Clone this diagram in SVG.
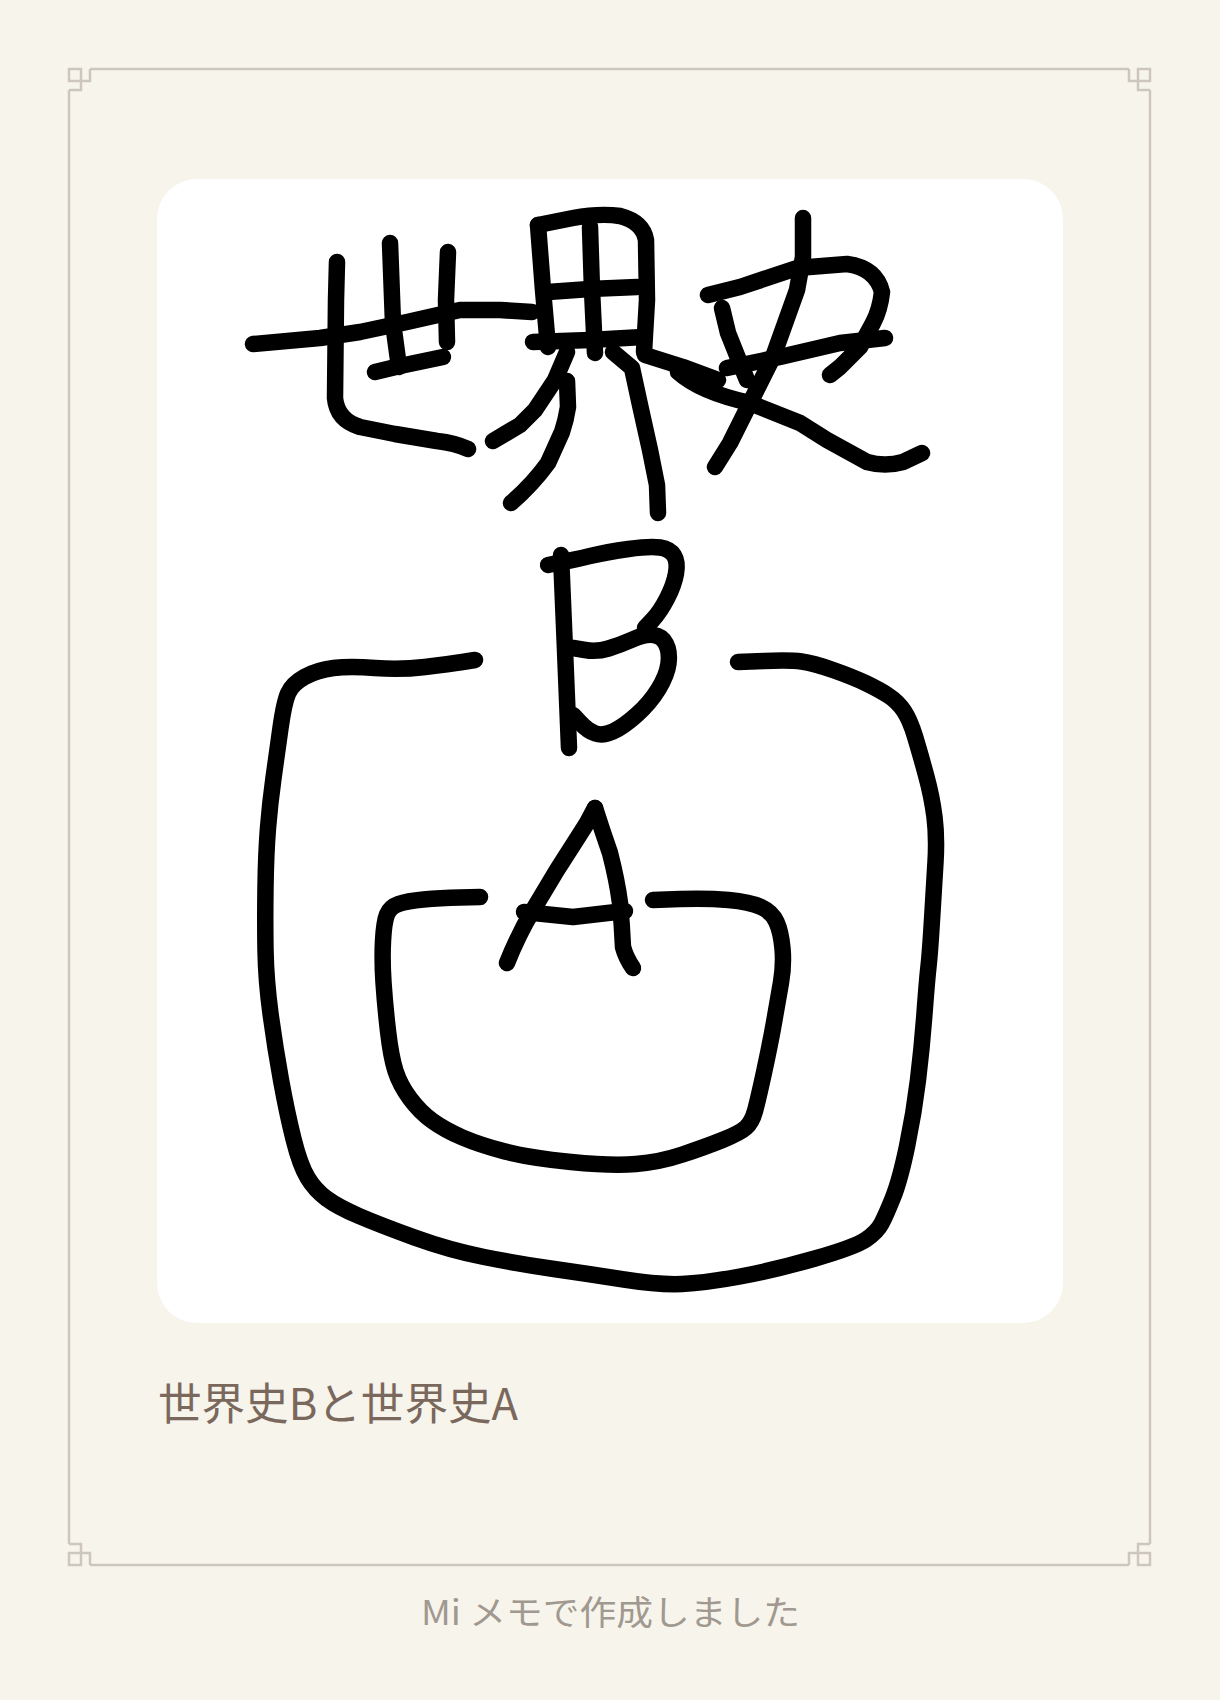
<svg xmlns="http://www.w3.org/2000/svg" xmlns:xlink="http://www.w3.org/1999/xlink" width="1220" height="1700" viewBox="0 0 1220 1700">
<defs>
<style>
.ink{fill:none;stroke:#000;stroke-width:16.5;stroke-linecap:round;stroke-linejoin:round}
.frame{fill:none;stroke:#cdc6bd;stroke-width:2.5}
.cap{font-family:"Noto Sans CJK JP","Noto Sans",sans-serif;font-size:44px;fill:#7a685c}
.foot{font-family:"Noto Sans CJK JP","Noto Sans",sans-serif;font-size:34px;fill:#a19990}
</style>
<path id="corner" class="frame" d="M0,0 H12 V12 H0 Z M21,0 V12 H12 M0,21 H12 V12"/>
</defs>
<rect width="1220" height="1700" fill="#f7f4ec"/>
<g id="frame">
<path class="frame" d="M90,69 H1129 M1150,90 V1544 M1129,1565 H90 M69,1544 V90"/>
<use xlink:href="#corner" transform="translate(69,69)"/>
<use xlink:href="#corner" transform="translate(1150,69) scale(-1,1)"/>
<use xlink:href="#corner" transform="translate(69,1565) scale(1,-1)"/>
<use xlink:href="#corner" transform="translate(1150,1565) scale(-1,-1)"/>
</g>
<rect id="card" x="157" y="179" width="906" height="1144" rx="40" fill="#ffffff"/>
<g id="sekai-shi">
<path class="ink" d="M253,344 L320,338 L360,332 L407,322 L460,310 L500,310 L532,312"/>
<path class="ink" d="M337,262 L336,300 L335,398 Q337,420 360,427 L395,434 L437,441 Q455,443 468,449"/>
<path class="ink" d="M390,243 L393,323 L399,367"/>
<path class="ink" d="M448,252 L446,300 L447,342"/>
<path class="ink" d="M375,372 L400,366 L443,357"/>
<path class="ink" d="M538,225 L543,290 L548,347"/>
<path class="ink" d="M538,225 L573,218 Q600,213 620,216 Q643,222 646,240 L647,300 L644,352"/>
<path class="ink" d="M590,227 L592,290 L595,353"/>
<path class="ink" d="M548,292 L590,289 L637,287"/>
<path class="ink" d="M533,342 L590,340 L643,337"/>
<path class="ink" d="M567,352 L555,380 Q545,395 535,410 L520,425 L493,441"/>
<path class="ink" d="M567,381 L568,407 Q566,420 562,432 L548,463 Q532,485 511,503"/>
<path class="ink" d="M613,352 L632,368 L640,405 L650,450 L657,485 L658,513"/>
<path class="ink" d="M645,355 L683,367 L718,380"/>
<path class="ink" d="M678,372 Q700,392 750,403 L800,423 L827,440 L867,462 Q885,467 903,462 L922,453"/>
<path class="ink" d="M803,218 L803,257 L797,290 L773,357 L750,403 L730,443 L715,467"/>
<path class="ink" d="M708,295 L740,287 L797,268 L847,264 Q876,268 882,292 Q880,310 873,323 L860,347 L840,367 L830,375"/>
<path class="ink" d="M722,308 L728,333 L740,363 L747,380"/>
<path class="ink" d="M727,368 L780,357 L840,343 L885,338"/>
</g>
<g id="letter-b">
<path class="ink" d="M561,555 L565,650 L569,748"/>
<path class="ink" d="M548,565 L560.5,562.5 Q573,560 590,556 Q607,552 628.5,549 Q650,546 660,547.5 Q670,549 674,555.5 Q678,562 676,573.5 Q674,585 667,598.5 Q660,612 652.5,620 L645,628"/>
<path class="ink" d="M573,648 L585,650 Q597,652 608.5,648.5 Q620,645 632.5,639.5 Q645,634 653.5,635 Q662,636 666,644 Q670,652 668.5,663.5 Q667,675 658.5,689 Q650,703 636.5,715 Q623,727 613,731.5 Q603,736 595.5,733.5 Q588,731 580.5,723 L573,715"/>
</g>
<g id="letter-a">
<path class="ink" d="M507,963 Q518,935 533,910 Q545,890 557,870 Q575,842 587,823 L595,808"/>
<path class="ink" d="M595,808 Q602,830 610,853 Q617,880 620,903 Q622,925 623,947 Q626,958 633,968"/>
<path class="ink" d="M524,912 L573,917 L625,911"/>
</g>
<g id="outer-frame">
<path class="ink" d="M475,660 L462.5,662 Q450,664 425,667 Q400,670 375,668 Q350,666 333.5,668 Q317,670 304.5,677 Q292,684 288,693.5 Q284,703 280.5,728 Q277,753 273.5,778 Q270,803 268,828 Q266,853 265.5,886.5 Q265,920 265.5,950 Q266,980 270.5,1013.5 Q275,1047 281,1080 Q287,1113 293.5,1139 Q300,1165 307.5,1177.5 Q315,1190 326.5,1198.5 Q338,1207 359,1216 Q380,1225 414.5,1237.5 Q449,1250 484,1257 Q519,1264 554,1269 Q589,1274 624,1279.5 Q659,1285 682,1284 Q705,1283 740,1276.5 Q775,1270 815,1258.5 Q855,1247 866,1239.5 Q877,1232 881.5,1223.5 Q886,1215 893,1197.5 Q900,1180 907,1146.5 Q914,1113 918,1080 Q922,1047 924.5,1013.5 Q927,980 928.5,966.5 Q930,953 932,920 Q934,887 935.5,862 Q937,837 934.5,817 Q932,797 926,775 Q920,753 915,736.5 Q910,720 904,711 Q898,702 889,696 Q880,690 866.5,683.5 Q853,677 833,670 Q813,663 801.5,661.5 Q790,660 764,661 L738,662"/>
</g>
<g id="inner-frame">
<path class="ink" d="M480,897 L460,897.5 Q440,898 423.5,899.5 Q407,901 398.5,904 Q390,907 387,914.5 Q384,922 383,941 Q382,960 383.5,982.5 Q385,1005 388,1031 Q391,1057 395.5,1071 Q400,1085 410,1098.5 Q420,1112 432.5,1121 Q445,1130 462.5,1137.5 Q480,1145 505,1151.5 Q530,1158 571,1162 Q612,1166 636,1164 Q660,1162 682.5,1154.5 Q705,1147 722.5,1140 Q740,1133 746,1127.5 Q752,1122 755,1111 Q758,1100 764,1072.5 Q770,1045 774,1022.5 Q778,1000 781,982.5 Q784,965 782.5,948.5 Q781,932 776.5,922 Q772,912 761,907 Q750,902 728.5,900 Q707,898 680,899 L653,900"/>
</g>
<text id="caption" class="cap" x="158" y="1420" textLength="360" lengthAdjust="spacingAndGlyphs">世界史Bと世界史A</text>
<text id="footer" class="foot" x="421" y="1625" textLength="379" lengthAdjust="spacingAndGlyphs">Mi メモで作成しました</text>
</svg>
